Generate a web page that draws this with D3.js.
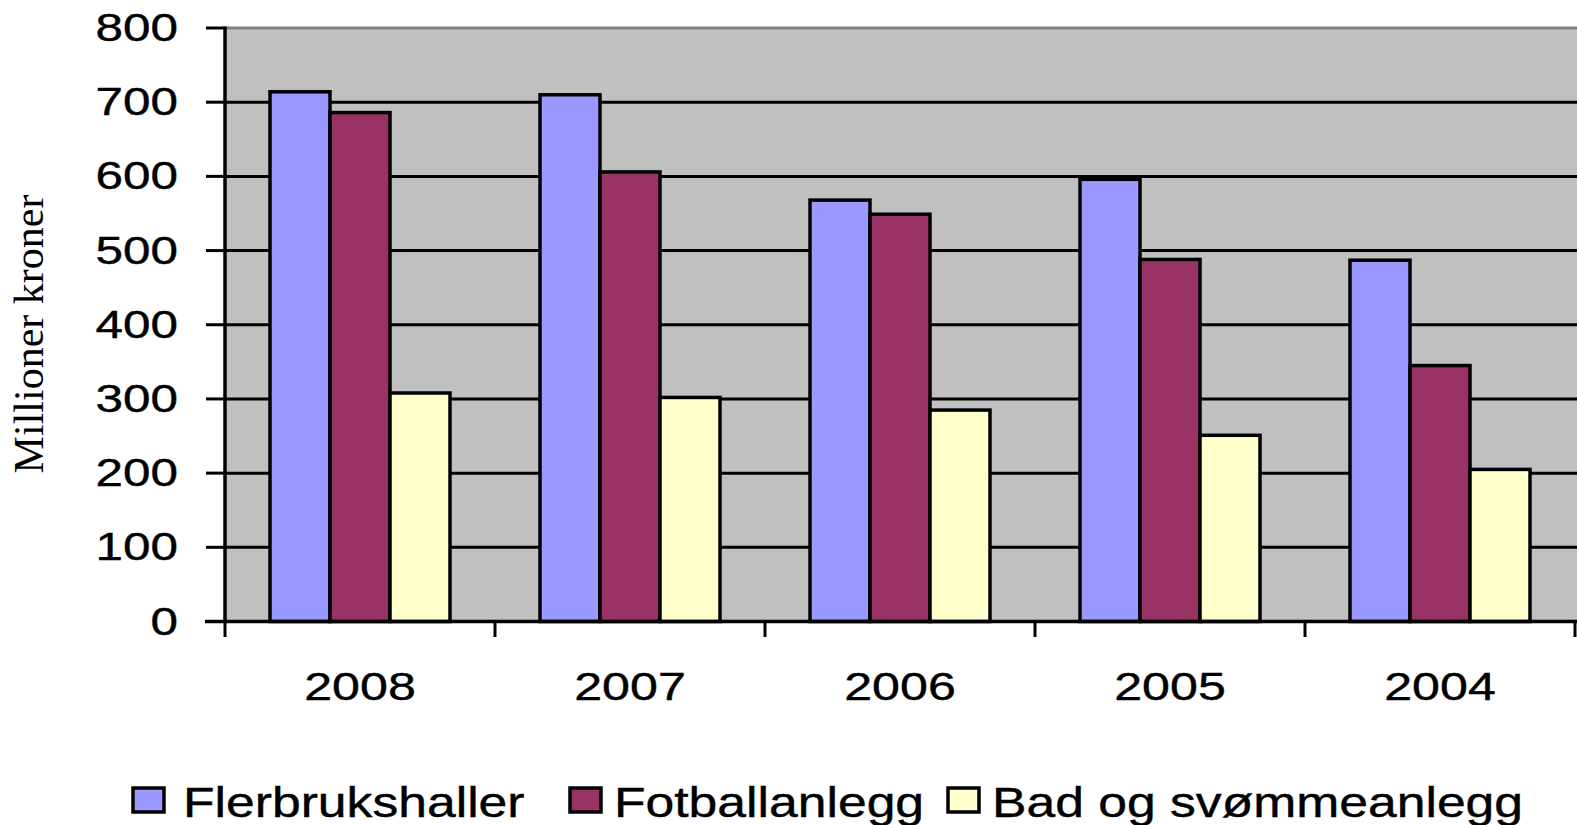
<!DOCTYPE html>
<html><head><meta charset="utf-8">
<script src="https://cdn.jsdelivr.net/npm/d3@7/dist/d3.min.js"></script>
<style>body{margin:0;background:#fff}svg{display:block}</style>
</head><body>
<svg id="c" width="1577" height="825"></svg>
<script>
const categories = ["2008","2007","2006","2005","2004"];
const seriesNames = ["Flerbrukshaller","Fotballanlegg","Bad og svømmeanlegg"];
const flerbrukshaller = [714, 710, 568, 596, 487];
const fotballanlegg = [686, 606, 549, 488, 345];
const badOgSvommeanlegg = [308, 302, 285, 251, 205];
const yTicks = [0,100,200,300,400,500,600,700,800];
const colors = ["#9999FF","#993366","#FFFFCC"];
const axisTitle = "Millioner kroner";

const seriesValues = [flerbrukshaller, fotballanlegg, badOgSvommeanlegg];
const svg = d3.select("#c");
const L = 225, R = 1575, T = 28, B = 621.5;
const x0 = d3.scaleBand().domain(categories).range([L, R]).padding(0);
const x1 = d3.scaleBand().domain(seriesNames).range([0, x0.bandwidth()]).paddingInner(0).paddingOuter(0.75);
const y = d3.scaleLinear().domain([0, 800]).range([B, T]);

svg.append("rect").attr("x", L).attr("y", T).attr("width", 1577 - L).attr("height", B - T).attr("fill", "#C0C0C0");

svg.append("g").selectAll("line").data(yTicks.filter(d => d > 0 && d < 800)).join("line")
  .attr("x1", L).attr("x2", 1577).attr("y1", d => y(d)).attr("y2", d => y(d))
  .attr("stroke", "#000").attr("stroke-width", 3);
svg.append("line").attr("x1", L).attr("x2", 1577).attr("y1", y(800)).attr("y2", y(800))
  .attr("stroke", "#808080").attr("stroke-width", 3);

const g = svg.append("g");
categories.forEach((c, i) => {
  seriesNames.forEach((s, j) => {
    const v = seriesValues[j][i];
    g.append("rect")
      .attr("x", x0(c) + x1(s)).attr("y", y(v))
      .attr("width", x1.bandwidth()).attr("height", y(0) - y(v))
      .attr("fill", colors[j]).attr("stroke", "#000").attr("stroke-width", 3.5);
  });
});

svg.append("line").attr("x1", L).attr("x2", L).attr("y1", T - 1.5).attr("y2", B + 1.5)
  .attr("stroke", "#000").attr("stroke-width", 3.5);
svg.append("g").selectAll("line").data(yTicks).join("line")
  .attr("x1", 206).attr("x2", L).attr("y1", d => y(d)).attr("y2", d => y(d))
  .attr("stroke", "#000").attr("stroke-width", 3);
svg.append("g").selectAll("text").data(yTicks).join("text")
  .attr("transform", d => `translate(178,${y(d) + 13}) scale(1.3,1)`)
  .attr("text-anchor", "end")
  .attr("font-family", "Liberation Sans, Arial, sans-serif").attr("font-size", 38)
  .attr("fill", "#000").attr("stroke", "#000").attr("stroke-width", 0.4).text(d => d);

svg.append("line").attr("x1", L - 20).attr("x2", 1577).attr("y1", B).attr("y2", B)
  .attr("stroke", "#000").attr("stroke-width", 3.5);
const tickXs = categories.map(c => x0(c)).concat([R]);
svg.append("g").selectAll("line").data(tickXs).join("line")
  .attr("x1", d => d).attr("x2", d => d).attr("y1", B).attr("y2", 637)
  .attr("stroke", "#000").attr("stroke-width", 3);
svg.append("g").selectAll("text").data(categories).join("text")
  .attr("transform", d => `translate(${x0(d) + x0.bandwidth() / 2},700) scale(1.32,1)`)
  .attr("text-anchor", "middle")
  .attr("font-family", "Liberation Sans, Arial, sans-serif").attr("font-size", 38)
  .attr("fill", "#000").attr("stroke", "#000").attr("stroke-width", 0.4).text(d => d);

svg.append("text").attr("transform", "translate(43,334) rotate(-90)")
  .attr("text-anchor", "middle")
  .attr("font-family", "Liberation Serif, Times New Roman, serif").attr("font-size", 42)
  .attr("fill", "#000").text(axisTitle);

const legendStarts = [133, 570, 948];
seriesNames.forEach((s, j) => {
  const lx = legendStarts[j];
  svg.append("rect").attr("x", lx).attr("y", 788).attr("width", 31).attr("height", 24)
    .attr("fill", colors[j]).attr("stroke", "#000").attr("stroke-width", 3.5);
  svg.append("text").attr("transform", `translate(${lx + (j === 0 ? 50 : 44)},817) scale(1.23,1)`)
    .attr("font-family", "Liberation Sans, Arial, sans-serif").attr("font-size", 42)
    .attr("fill", "#000").attr("stroke", "#000").attr("stroke-width", 0.4).text(s);
});
</script>
</body></html>
